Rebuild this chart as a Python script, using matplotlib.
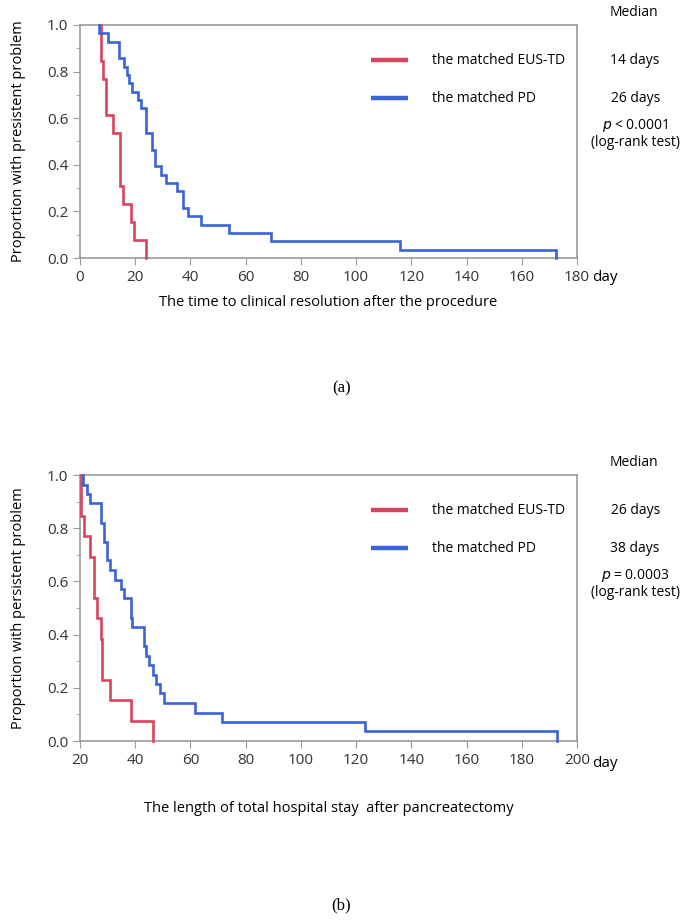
import matplotlib
matplotlib.use("Agg")
import matplotlib.pyplot as plt
from matplotlib.transforms import offset_copy

plt.rcParams['font.family'] = ['Open Sans', 'DejaVu Sans']

# panel (a): time to clinical resolution (step times, proportion after each step)
a_eus_days = [7.5, 8.5, 9.5, 12, 14.5, 15.5, 18.5, 19.5, 24]
a_eus_prop = [0.846, 0.769, 0.615, 0.538, 0.308, 0.231, 0.154, 0.077, 0.0]
a_pd_days = [7, 10, 14.2, 15.9, 16.9, 17.8, 19, 21, 22.1, 24, 26.2, 27, 29.3,
             31.1, 35.2, 37.4, 39, 44, 54, 69, 116, 172.5]
a_pd_prop = [0.964, 0.929, 0.857, 0.821, 0.786, 0.750, 0.714, 0.679, 0.643, 0.536,
             0.464, 0.393, 0.357, 0.321, 0.286, 0.214, 0.179, 0.143, 0.107, 0.071,
             0.036, 0.0]

# panel (b): total hospital stay
b_eus_days = [20.5, 21.6, 23.8, 24.9, 26, 27.5, 28, 31, 38.5, 46.5]
b_eus_prop = [0.846, 0.769, 0.692, 0.538, 0.462, 0.385, 0.231, 0.154, 0.077, 0.0]
b_pd_days = [21.2, 22.4, 23.7, 27.7, 28.7, 29.8, 31, 32.6, 35, 35.9, 38.3, 38.9,
             43, 43.8, 45.1, 46.6, 47.6, 49, 50.3, 61.8, 71.6, 123.2, 192.6]
b_pd_prop = [0.964, 0.929, 0.893, 0.821, 0.750, 0.679, 0.643, 0.607, 0.571, 0.536,
             0.464, 0.429, 0.357, 0.321, 0.286, 0.250, 0.214, 0.179, 0.143, 0.107,
             0.071, 0.036, 0.0]

groups = ["the matched EUS-TD", "the matched PD"]
a_medians = ["14 days", "26 days"]
b_medians = ["26 days", "38 days"]
a_ptext = "$p$ < 0.0001"
b_ptext = "$p$ = 0.0003"

RED = "#d6455d"
BLUE = "#3a63d6"
GRAY = "#9a9a9a"


def steps(days, prop):
    xs, ys = [days[0]], [1.0]
    prev = 1.0
    for d, p in zip(days, prop):
        xs += [d, d]
        ys += [prev, p]
        prev = p
    return xs, ys


def km_panel(fig, rect, eus, pd, xlim, xticks, ylabel, xlabel, xlpad, medians, ptext, tag):
    ax = fig.add_axes(rect)
    for (d, p), c in zip([eus, pd], [RED, BLUE]):
        x, y = steps(d, p)
        ax.plot(x, y, color=c, lw=1.9, solid_joinstyle='miter', clip_on=False, zorder=3)
    ax.set_xlim(*xlim)
    ax.set_ylim(0, 1.0)
    ax.set_xticks(xticks)
    ax.set_yticks([0, 0.2, 0.4, 0.6, 0.8, 1.0])
    ax.set_yticklabels(["0.0", "0.2", "0.4", "0.6", "0.8", "1.0"])
    ax.set_yticks([0.1, 0.3, 0.5, 0.7, 0.9], minor=True)
    for s in ax.spines.values():
        s.set_color(GRAY)
        s.set_linewidth(1.2)
    ax.tick_params(which='both', color=GRAY, labelsize=11, labelcolor="#333333")
    ax.tick_params(which='major', length=5)
    ax.tick_params(which='minor', length=3)
    ax.set_ylabel(ylabel, fontsize=10.5, labelpad=15)
    ax.set_xlabel(xlabel, fontsize=10.5, labelpad=xlpad)
    ax.text(1.057, -0.085, "day", transform=ax.transAxes, fontsize=11, va='center', ha='center')

    # legend-like labels and median column, placed in pixels from the top of the axes
    top = ax.transAxes
    def at(dy):
        return offset_copy(top, fig=fig, x=0, y=-dy, units='dots')
    for i, (g, c) in enumerate(zip(groups, [RED, BLUE])):
        dy = 35 + i * 38
        ax.plot([0.585, 0.66], [1, 1], transform=at(dy), color=c, lw=3.2, solid_capstyle='butt')
        ax.text(0.708, 1, g, transform=at(dy), fontsize=10, va='center')
        ax.text(1.117, 1, medians[i], transform=at(dy), fontsize=10, va='center', ha='center')
    ax.text(1.115, 1, "Median", transform=at(-13), fontsize=10, va='center', ha='center')
    ax.text(1.117, 1, ptext, transform=at(100), fontsize=10, va='center', ha='center')
    ax.text(1.117, 1, "(log-rank test)", transform=at(117), fontsize=10, va='center', ha='center')
    fig.text(rect[0] + rect[2] * 0.526, tag[1], tag[0], fontsize=12, ha='center', va='center',
             family='Liberation Serif')
    return ax


fig = plt.figure(figsize=(6.81, 9.22), dpi=100)
W, H = 681.0, 922.0

km_panel(fig, [80 / W, 1 - 258 / H, 497 / W, 233 / H],
         (a_eus_days, a_eus_prop), (a_pd_days, a_pd_prop),
         (0, 180), list(range(0, 181, 20)),
         "Proportion with presistent problem",
         "The time to clinical resolution after the procedure", 7,
         a_medians, a_ptext, ("(a)", 1 - 388 / H))

km_panel(fig, [80 / W, 1 - 741 / H, 497 / W, 266 / H],
         (b_eus_days, b_eus_prop), (b_pd_days, b_pd_prop),
         (20, 200), list(range(20, 201, 20)),
         "Proportion with persistent problem",
         "The length of total hospital stay  after pancreatectomy", 24,
         b_medians, b_ptext, ("(b)", 1 - 905 / H))

fig.savefig("out.png", dpi=100)
